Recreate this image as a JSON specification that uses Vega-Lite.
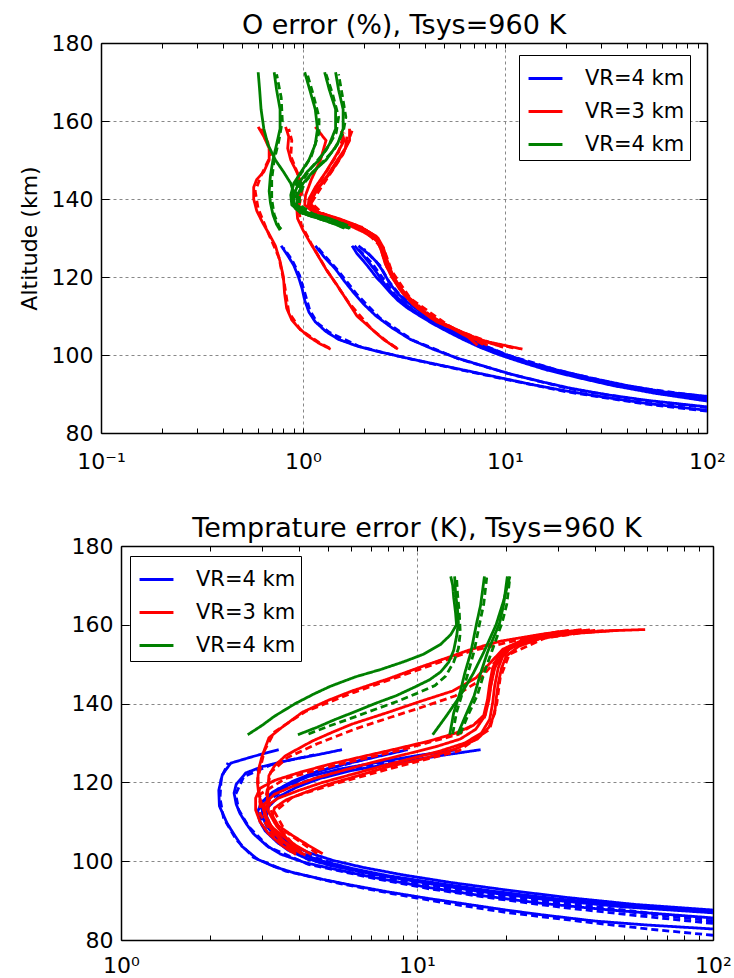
{
"$schema": "https://vega.github.io/schema/vega-lite/v6.json",
"background": "white",
"padding": {"left": 18, "top": 12, "right": 0, "bottom": 0},
"config": {
 "font": "DejaVu Sans",
 "view": {"stroke": null},
 "axis": {"labelFont": "DejaVu Sans", "labelFontSize": 22, "labelColor": "black", "titleFont": "DejaVu Sans", "titleFontSize": 22, "titleFontWeight": "normal", "titleColor": "black", "domain": true, "domainColor": "black", "domainWidth": 1.5, "tickColor": "black", "tickWidth": 1, "gridColor": "#888888", "gridDash": [3, 3], "gridWidth": 1, "labelFlush": false, "labelOverlap": false},
 "title": {"font": "DejaVu Sans", "fontSize": 27, "fontWeight": "normal", "color": "black", "frame": "group", "offset": -8},
 "legend": {"labelFont": "DejaVu Sans", "labelColor": "black"}
},
"datasets": {
"top": [
{"c":"b","k":"b1s","s":"s","x":0.78,"y":128},{"c":"b","k":"b1s","s":"s","x":0.84,"y":125.5},{"c":"b","k":"b1s","s":"s","x":0.9,"y":123},{"c":"b","k":"b1s","s":"s","x":0.95,"y":120},{"c":"b","k":"b1s","s":"s","x":0.99,"y":117},{"c":"b","k":"b1s","s":"s","x":1.02,"y":114},{"c":"b","k":"b1s","s":"s","x":1.07,"y":111},{"c":"b","k":"b1s","s":"s","x":1.15,"y":108.5},{"c":"b","k":"b1s","s":"s","x":1.3,"y":106},{"c":"b","k":"b1s","s":"s","x":1.5,"y":104},{"c":"b","k":"b1s","s":"s","x":1.85,"y":102.3},{"c":"b","k":"b1s","s":"s","x":2.3,"y":101},{"c":"b","k":"b1s","s":"s","x":2.8,"y":100},{"c":"b","k":"b1s","s":"s","x":3.7,"y":98.6},{"c":"b","k":"b1s","s":"s","x":5,"y":97.2},{"c":"b","k":"b1s","s":"s","x":7,"y":95.6},{"c":"b","k":"b1s","s":"s","x":9.8,"y":94},{"c":"b","k":"b1s","s":"s","x":14,"y":92.3},{"c":"b","k":"b1s","s":"s","x":20,"y":90.8},{"c":"b","k":"b1s","s":"s","x":30,"y":89.3},{"c":"b","k":"b1s","s":"s","x":50,"y":87.6},{"c":"b","k":"b1s","s":"s","x":100,"y":85.8},
{"c":"b","k":"b1d","s":"d","x":0.8,"y":127.5},{"c":"b","k":"b1d","s":"d","x":0.88,"y":124.5},{"c":"b","k":"b1d","s":"d","x":0.96,"y":120.5},{"c":"b","k":"b1d","s":"d","x":1.02,"y":116},{"c":"b","k":"b1d","s":"d","x":1.08,"y":111.5},{"c":"b","k":"b1d","s":"d","x":1.18,"y":108.2},{"c":"b","k":"b1d","s":"d","x":1.35,"y":105.8},{"c":"b","k":"b1d","s":"d","x":1.9,"y":102.2},{"c":"b","k":"b1d","s":"d","x":2.9,"y":99.8},{"c":"b","k":"b1d","s":"d","x":5.1,"y":97},{"c":"b","k":"b1d","s":"d","x":10,"y":93.8},{"c":"b","k":"b1d","s":"d","x":20,"y":90.6},{"c":"b","k":"b1d","s":"d","x":50,"y":87.4},{"c":"b","k":"b1d","s":"d","x":100,"y":85.6},
{"c":"b","k":"b2s","s":"s","x":1.15,"y":128},{"c":"b","k":"b2s","s":"s","x":1.28,"y":125},{"c":"b","k":"b2s","s":"s","x":1.45,"y":122},{"c":"b","k":"b2s","s":"s","x":1.6,"y":119},{"c":"b","k":"b2s","s":"s","x":1.78,"y":116},{"c":"b","k":"b2s","s":"s","x":2.0,"y":113},{"c":"b","k":"b2s","s":"s","x":2.3,"y":110},{"c":"b","k":"b2s","s":"s","x":2.75,"y":107},{"c":"b","k":"b2s","s":"s","x":3.4,"y":104},{"c":"b","k":"b2s","s":"s","x":4.4,"y":101.5},{"c":"b","k":"b2s","s":"s","x":5.8,"y":99.2},{"c":"b","k":"b2s","s":"s","x":7.8,"y":97.2},{"c":"b","k":"b2s","s":"s","x":10.5,"y":95.2},{"c":"b","k":"b2s","s":"s","x":15,"y":93.2},{"c":"b","k":"b2s","s":"s","x":21,"y":91.5},{"c":"b","k":"b2s","s":"s","x":32,"y":89.8},{"c":"b","k":"b2s","s":"s","x":50,"y":88.4},{"c":"b","k":"b2s","s":"s","x":100,"y":86.7},
{"c":"b","k":"b2d","s":"d","x":1.18,"y":127.6},{"c":"b","k":"b2d","s":"d","x":1.33,"y":124.5},{"c":"b","k":"b2d","s":"d","x":1.5,"y":121.5},{"c":"b","k":"b2d","s":"d","x":1.85,"y":115.5},{"c":"b","k":"b2d","s":"d","x":2.4,"y":109.5},{"c":"b","k":"b2d","s":"d","x":3.5,"y":103.8},{"c":"b","k":"b2d","s":"d","x":5.9,"y":99},{"c":"b","k":"b2d","s":"d","x":10.8,"y":95},{"c":"b","k":"b2d","s":"d","x":21,"y":91.3},{"c":"b","k":"b2d","s":"d","x":50,"y":88.2},{"c":"b","k":"b2d","s":"d","x":100,"y":86.5},
{"c":"b","k":"b3s","s":"s","x":1.8,"y":128},{"c":"b","k":"b3s","s":"s","x":1.95,"y":126},{"c":"b","k":"b3s","s":"s","x":2.1,"y":124},{"c":"b","k":"b3s","s":"s","x":2.25,"y":122},{"c":"b","k":"b3s","s":"s","x":2.4,"y":120},{"c":"b","k":"b3s","s":"s","x":2.55,"y":118},{"c":"b","k":"b3s","s":"s","x":2.75,"y":116},{"c":"b","k":"b3s","s":"s","x":3.05,"y":114},{"c":"b","k":"b3s","s":"s","x":3.4,"y":112},{"c":"b","k":"b3s","s":"s","x":3.9,"y":110},{"c":"b","k":"b3s","s":"s","x":4.6,"y":108},{"c":"b","k":"b3s","s":"s","x":5.4,"y":106},{"c":"b","k":"b3s","s":"s","x":6.4,"y":104},{"c":"b","k":"b3s","s":"s","x":7.8,"y":102},{"c":"b","k":"b3s","s":"s","x":9.5,"y":100.2},{"c":"b","k":"b3s","s":"s","x":12.5,"y":98.2},{"c":"b","k":"b3s","s":"s","x":17,"y":96.2},{"c":"b","k":"b3s","s":"s","x":24,"y":94.2},{"c":"b","k":"b3s","s":"s","x":36,"y":92.2},{"c":"b","k":"b3s","s":"s","x":60,"y":90.2},{"c":"b","k":"b3s","s":"s","x":100,"y":88.8},
{"c":"b","k":"b3d","s":"d","x":1.85,"y":127.5},{"c":"b","k":"b3d","s":"d","x":2.2,"y":123.5},{"c":"b","k":"b3d","s":"d","x":2.5,"y":119.5},{"c":"b","k":"b3d","s":"d","x":2.85,"y":115.5},{"c":"b","k":"b3d","s":"d","x":3.5,"y":111.5},{"c":"b","k":"b3d","s":"d","x":4.7,"y":107.7},{"c":"b","k":"b3d","s":"d","x":6.6,"y":103.7},{"c":"b","k":"b3d","s":"d","x":9.8,"y":100},{"c":"b","k":"b3d","s":"d","x":17.5,"y":96},{"c":"b","k":"b3d","s":"d","x":36,"y":92},{"c":"b","k":"b3d","s":"d","x":100,"y":88.6},
{"c":"b","k":"b4s","s":"s","x":1.88,"y":128},{"c":"b","k":"b4s","s":"s","x":2.1,"y":126},{"c":"b","k":"b4s","s":"s","x":2.3,"y":124},{"c":"b","k":"b4s","s":"s","x":2.45,"y":122},{"c":"b","k":"b4s","s":"s","x":2.58,"y":120},{"c":"b","k":"b4s","s":"s","x":2.72,"y":118},{"c":"b","k":"b4s","s":"s","x":2.92,"y":116},{"c":"b","k":"b4s","s":"s","x":3.2,"y":114},{"c":"b","k":"b4s","s":"s","x":3.6,"y":112},{"c":"b","k":"b4s","s":"s","x":4.1,"y":110},{"c":"b","k":"b4s","s":"s","x":4.8,"y":108},{"c":"b","k":"b4s","s":"s","x":5.6,"y":106},{"c":"b","k":"b4s","s":"s","x":6.7,"y":104},{"c":"b","k":"b4s","s":"s","x":8.2,"y":102},{"c":"b","k":"b4s","s":"s","x":10,"y":100.2},{"c":"b","k":"b4s","s":"s","x":13,"y":98.2},{"c":"b","k":"b4s","s":"s","x":18,"y":96.2},{"c":"b","k":"b4s","s":"s","x":26,"y":94.2},{"c":"b","k":"b4s","s":"s","x":40,"y":92.2},{"c":"b","k":"b4s","s":"s","x":62,"y":90.5},{"c":"b","k":"b4s","s":"s","x":100,"y":89.4},
{"c":"b","k":"b4d","s":"d","x":2.0,"y":127.2},{"c":"b","k":"b4d","s":"d","x":2.4,"y":123},{"c":"b","k":"b4d","s":"d","x":2.65,"y":119},{"c":"b","k":"b4d","s":"d","x":3.0,"y":115.5},{"c":"b","k":"b4d","s":"d","x":3.7,"y":111.6},{"c":"b","k":"b4d","s":"d","x":5.0,"y":107.5},{"c":"b","k":"b4d","s":"d","x":7,"y":103.5},{"c":"b","k":"b4d","s":"d","x":10.3,"y":100},{"c":"b","k":"b4d","s":"d","x":18.5,"y":96},{"c":"b","k":"b4d","s":"d","x":40,"y":92},{"c":"b","k":"b4d","s":"d","x":100,"y":89.2},
{"c":"b","k":"b5s","s":"s","x":1.75,"y":128},{"c":"b","k":"b5s","s":"s","x":1.85,"y":126},{"c":"b","k":"b5s","s":"s","x":2.0,"y":124},{"c":"b","k":"b5s","s":"s","x":2.15,"y":122},{"c":"b","k":"b5s","s":"s","x":2.3,"y":120},{"c":"b","k":"b5s","s":"s","x":2.5,"y":118},{"c":"b","k":"b5s","s":"s","x":2.7,"y":116},{"c":"b","k":"b5s","s":"s","x":2.95,"y":114},{"c":"b","k":"b5s","s":"s","x":3.3,"y":112},{"c":"b","k":"b5s","s":"s","x":3.8,"y":110},{"c":"b","k":"b5s","s":"s","x":4.4,"y":108},{"c":"b","k":"b5s","s":"s","x":5.2,"y":106},{"c":"b","k":"b5s","s":"s","x":6.2,"y":104},{"c":"b","k":"b5s","s":"s","x":7.5,"y":102},{"c":"b","k":"b5s","s":"s","x":9.2,"y":100.2},{"c":"b","k":"b5s","s":"s","x":12,"y":98.2},{"c":"b","k":"b5s","s":"s","x":16,"y":96.2},{"c":"b","k":"b5s","s":"s","x":23,"y":94.2},{"c":"b","k":"b5s","s":"s","x":34,"y":92.2},{"c":"b","k":"b5s","s":"s","x":55,"y":90.2},{"c":"b","k":"b5s","s":"s","x":100,"y":88.2},
{"c":"r","k":"r1s","s":"s","x":0.6,"y":158.5},{"c":"r","k":"r1s","s":"s","x":0.64,"y":156},{"c":"r","k":"r1s","s":"s","x":0.68,"y":153},{"c":"r","k":"r1s","s":"s","x":0.68,"y":150},{"c":"r","k":"r1s","s":"s","x":0.64,"y":147},{"c":"r","k":"r1s","s":"s","x":0.59,"y":145},{"c":"r","k":"r1s","s":"s","x":0.57,"y":143},{"c":"r","k":"r1s","s":"s","x":0.57,"y":140},{"c":"r","k":"r1s","s":"s","x":0.59,"y":137},{"c":"r","k":"r1s","s":"s","x":0.63,"y":134},{"c":"r","k":"r1s","s":"s","x":0.68,"y":131},{"c":"r","k":"r1s","s":"s","x":0.73,"y":128},{"c":"r","k":"r1s","s":"s","x":0.77,"y":124},{"c":"r","k":"r1s","s":"s","x":0.8,"y":120},{"c":"r","k":"r1s","s":"s","x":0.81,"y":116},{"c":"r","k":"r1s","s":"s","x":0.83,"y":112},{"c":"r","k":"r1s","s":"s","x":0.88,"y":109},{"c":"r","k":"r1s","s":"s","x":0.95,"y":107},{"c":"r","k":"r1s","s":"s","x":1.05,"y":105},{"c":"r","k":"r1s","s":"s","x":1.2,"y":103},{"c":"r","k":"r1s","s":"s","x":1.37,"y":101.5},
{"c":"r","k":"r1d","s":"d","x":0.62,"y":158},{"c":"r","k":"r1d","s":"d","x":0.67,"y":154.5},{"c":"r","k":"r1d","s":"d","x":0.69,"y":151},{"c":"r","k":"r1d","s":"d","x":0.62,"y":146},{"c":"r","k":"r1d","s":"d","x":0.58,"y":142},{"c":"r","k":"r1d","s":"d","x":0.6,"y":137.5},{"c":"r","k":"r1d","s":"d","x":0.67,"y":131.5},{"c":"r","k":"r1d","s":"d","x":0.76,"y":125},{"c":"r","k":"r1d","s":"d","x":0.81,"y":118},{"c":"r","k":"r1d","s":"d","x":0.85,"y":111},{"c":"r","k":"r1d","s":"d","x":0.97,"y":106.5},{"c":"r","k":"r1d","s":"d","x":1.2,"y":103.2},{"c":"r","k":"r1d","s":"d","x":1.35,"y":101.8},
{"c":"r","k":"r2s","s":"s","x":0.82,"y":158.5},{"c":"r","k":"r2s","s":"s","x":0.85,"y":156},{"c":"r","k":"r2s","s":"s","x":0.84,"y":153},{"c":"r","k":"r2s","s":"s","x":0.87,"y":150},{"c":"r","k":"r2s","s":"s","x":0.93,"y":147},{"c":"r","k":"r2s","s":"s","x":0.98,"y":144},{"c":"r","k":"r2s","s":"s","x":0.97,"y":141},{"c":"r","k":"r2s","s":"s","x":0.93,"y":138},{"c":"r","k":"r2s","s":"s","x":0.94,"y":135},{"c":"r","k":"r2s","s":"s","x":1.0,"y":132},{"c":"r","k":"r2s","s":"s","x":1.08,"y":129},{"c":"r","k":"r2s","s":"s","x":1.17,"y":126},{"c":"r","k":"r2s","s":"s","x":1.3,"y":122},{"c":"r","k":"r2s","s":"s","x":1.47,"y":118},{"c":"r","k":"r2s","s":"s","x":1.65,"y":114},{"c":"r","k":"r2s","s":"s","x":1.85,"y":110},{"c":"r","k":"r2s","s":"s","x":2.15,"y":107},{"c":"r","k":"r2s","s":"s","x":2.5,"y":104},{"c":"r","k":"r2s","s":"s","x":2.95,"y":101.5},
{"c":"r","k":"r2d","s":"d","x":0.85,"y":158},{"c":"r","k":"r2d","s":"d","x":0.88,"y":155},{"c":"r","k":"r2d","s":"d","x":0.87,"y":151},{"c":"r","k":"r2d","s":"d","x":0.95,"y":146},{"c":"r","k":"r2d","s":"d","x":0.99,"y":142},{"c":"r","k":"r2d","s":"d","x":0.95,"y":137.5},{"c":"r","k":"r2d","s":"d","x":0.98,"y":133.5},{"c":"r","k":"r2d","s":"d","x":1.1,"y":128.5},{"c":"r","k":"r2d","s":"d","x":1.32,"y":121.5},{"c":"r","k":"r2d","s":"d","x":1.68,"y":113.5},{"c":"r","k":"r2d","s":"d","x":2.2,"y":106.5},{"c":"r","k":"r2d","s":"d","x":2.6,"y":103.5},{"c":"r","k":"r2d","s":"d","x":2.9,"y":101.8},
{"c":"r","k":"r3s","s":"s","x":1.15,"y":158.5},{"c":"r","k":"r3s","s":"s","x":1.3,"y":155},{"c":"r","k":"r3s","s":"s","x":1.22,"y":150},{"c":"r","k":"r3s","s":"s","x":1.1,"y":145},{"c":"r","k":"r3s","s":"s","x":1.03,"y":141},{"c":"r","k":"r3s","s":"s","x":1.02,"y":138.5},{"c":"r","k":"r3s","s":"s","x":1.1,"y":137},{"c":"r","k":"r3s","s":"s","x":1.5,"y":134.5},{"c":"r","k":"r3s","s":"s","x":2.0,"y":131.5},{"c":"r","k":"r3s","s":"s","x":2.3,"y":129.5},{"c":"r","k":"r3s","s":"s","x":2.45,"y":127},{"c":"r","k":"r3s","s":"s","x":2.55,"y":124},{"c":"r","k":"r3s","s":"s","x":2.7,"y":121},{"c":"r","k":"r3s","s":"s","x":3.0,"y":117},{"c":"r","k":"r3s","s":"s","x":3.5,"y":113},{"c":"r","k":"r3s","s":"s","x":4.3,"y":109.5},{"c":"r","k":"r3s","s":"s","x":5.5,"y":107},{"c":"r","k":"r3s","s":"s","x":7.0,"y":104.5},{"c":"r","k":"r3s","s":"s","x":8.5,"y":103},{"c":"r","k":"r3s","s":"s","x":9.8,"y":102},
{"c":"r","k":"r4s","s":"s","x":1.55,"y":157.5},{"c":"r","k":"r4s","s":"s","x":1.6,"y":155},{"c":"r","k":"r4s","s":"s","x":1.45,"y":151},{"c":"r","k":"r4s","s":"s","x":1.3,"y":147},{"c":"r","k":"r4s","s":"s","x":1.15,"y":143},{"c":"r","k":"r4s","s":"s","x":1.07,"y":140},{"c":"r","k":"r4s","s":"s","x":1.06,"y":138},{"c":"r","k":"r4s","s":"s","x":1.15,"y":136.8},{"c":"r","k":"r4s","s":"s","x":1.5,"y":135},{"c":"r","k":"r4s","s":"s","x":1.9,"y":133},{"c":"r","k":"r4s","s":"s","x":2.2,"y":131},{"c":"r","k":"r4s","s":"s","x":2.35,"y":129},{"c":"r","k":"r4s","s":"s","x":2.45,"y":126.5},{"c":"r","k":"r4s","s":"s","x":2.55,"y":123.5},{"c":"r","k":"r4s","s":"s","x":2.75,"y":120},{"c":"r","k":"r4s","s":"s","x":3.1,"y":116},{"c":"r","k":"r4s","s":"s","x":3.7,"y":112},{"c":"r","k":"r4s","s":"s","x":4.6,"y":108.5},{"c":"r","k":"r4s","s":"s","x":6,"y":106},{"c":"r","k":"r4s","s":"s","x":8,"y":103.5},{"c":"r","k":"r4s","s":"s","x":12.2,"y":101.5},
{"c":"r","k":"r4d","s":"d","x":1.6,"y":157},{"c":"r","k":"r4d","s":"d","x":1.5,"y":152},{"c":"r","k":"r4d","s":"d","x":1.2,"y":144},{"c":"r","k":"r4d","s":"d","x":1.08,"y":139},{"c":"r","k":"r4d","s":"d","x":1.2,"y":136.5},{"c":"r","k":"r4d","s":"d","x":1.95,"y":132.8},{"c":"r","k":"r4d","s":"d","x":2.4,"y":128},{"c":"r","k":"r4d","s":"d","x":2.6,"y":122.5},{"c":"r","k":"r4d","s":"d","x":3.2,"y":115.5},{"c":"r","k":"r4d","s":"d","x":4.8,"y":108},{"c":"r","k":"r4d","s":"d","x":8.3,"y":103.3},{"c":"r","k":"r4d","s":"d","x":11,"y":101.8},
{"c":"r","k":"r5s","s":"s","x":1.7,"y":158},{"c":"r","k":"r5s","s":"s","x":1.7,"y":155},{"c":"r","k":"r5s","s":"s","x":1.55,"y":151},{"c":"r","k":"r5s","s":"s","x":1.38,"y":147},{"c":"r","k":"r5s","s":"s","x":1.2,"y":143},{"c":"r","k":"r5s","s":"s","x":1.1,"y":140},{"c":"r","k":"r5s","s":"s","x":1.08,"y":137.8},{"c":"r","k":"r5s","s":"s","x":1.2,"y":136.5},{"c":"r","k":"r5s","s":"s","x":1.6,"y":134.3},{"c":"r","k":"r5s","s":"s","x":2.0,"y":132.3},{"c":"r","k":"r5s","s":"s","x":2.3,"y":130.5},{"c":"r","k":"r5s","s":"s","x":2.45,"y":128},{"c":"r","k":"r5s","s":"s","x":2.55,"y":125},{"c":"r","k":"r5s","s":"s","x":2.7,"y":122},{"c":"r","k":"r5s","s":"s","x":2.9,"y":118.5},{"c":"r","k":"r5s","s":"s","x":3.3,"y":115},{"c":"r","k":"r5s","s":"s","x":4.0,"y":111},{"c":"r","k":"r5s","s":"s","x":5.0,"y":108},{"c":"r","k":"r5s","s":"s","x":6.5,"y":105},{"c":"r","k":"r5s","s":"s","x":8.2,"y":102.5},
{"c":"r","k":"r5d","s":"d","x":1.75,"y":157.5},{"c":"r","k":"r5d","s":"d","x":1.58,"y":151.5},{"c":"r","k":"r5d","s":"d","x":1.25,"y":143.5},{"c":"r","k":"r5d","s":"d","x":1.1,"y":139},{"c":"r","k":"r5d","s":"d","x":1.25,"y":136.3},{"c":"r","k":"r5d","s":"d","x":2.05,"y":132},{"c":"r","k":"r5d","s":"d","x":2.5,"y":127.5},{"c":"r","k":"r5d","s":"d","x":2.75,"y":121.5},{"c":"r","k":"r5d","s":"d","x":3.4,"y":114.5},{"c":"r","k":"r5d","s":"d","x":5.2,"y":107.7},{"c":"r","k":"r5d","s":"d","x":7.8,"y":102.7},
{"c":"r","k":"r6s","s":"s","x":1.65,"y":156},{"c":"r","k":"r6s","s":"s","x":1.62,"y":153},{"c":"r","k":"r6s","s":"s","x":1.48,"y":150},{"c":"r","k":"r6s","s":"s","x":1.32,"y":146},{"c":"r","k":"r6s","s":"s","x":1.17,"y":142.5},{"c":"r","k":"r6s","s":"s","x":1.1,"y":139.5},{"c":"r","k":"r6s","s":"s","x":1.1,"y":137.5},{"c":"r","k":"r6s","s":"s","x":1.25,"y":136},{"c":"r","k":"r6s","s":"s","x":1.65,"y":134},{"c":"r","k":"r6s","s":"s","x":2.05,"y":132},{"c":"r","k":"r6s","s":"s","x":2.35,"y":130},{"c":"r","k":"r6s","s":"s","x":2.5,"y":127.5},{"c":"r","k":"r6s","s":"s","x":2.6,"y":124.5},{"c":"r","k":"r6s","s":"s","x":2.75,"y":121},{"c":"r","k":"r6s","s":"s","x":3.0,"y":117.5},{"c":"r","k":"r6s","s":"s","x":3.4,"y":114},{"c":"r","k":"r6s","s":"s","x":4.1,"y":110.5},{"c":"r","k":"r6s","s":"s","x":5.2,"y":107.5},{"c":"r","k":"r6s","s":"s","x":6.6,"y":104.5},{"c":"r","k":"r6s","s":"s","x":7.3,"y":102.5},
{"c":"g","k":"g1s","s":"s","x":0.6,"y":172.5},{"c":"g","k":"g1s","s":"s","x":0.61,"y":168},{"c":"g","k":"g1s","s":"s","x":0.62,"y":163},{"c":"g","k":"g1s","s":"s","x":0.64,"y":158},{"c":"g","k":"g1s","s":"s","x":0.67,"y":154},{"c":"g","k":"g1s","s":"s","x":0.73,"y":150},{"c":"g","k":"g1s","s":"s","x":0.8,"y":147},{"c":"g","k":"g1s","s":"s","x":0.87,"y":144},{"c":"g","k":"g1s","s":"s","x":0.9,"y":141.5},{"c":"g","k":"g1s","s":"s","x":0.88,"y":139.5},{"c":"g","k":"g1s","s":"s","x":0.92,"y":137.5},{"c":"g","k":"g1s","s":"s","x":1.05,"y":136},{"c":"g","k":"g1s","s":"s","x":1.3,"y":134.5},{"c":"g","k":"g1s","s":"s","x":1.55,"y":133.2},{"c":"g","k":"g1s","s":"s","x":1.7,"y":132.5},
{"c":"g","k":"g2s","s":"s","x":0.72,"y":172.5},{"c":"g","k":"g2s","s":"s","x":0.74,"y":168},{"c":"g","k":"g2s","s":"s","x":0.77,"y":163},{"c":"g","k":"g2s","s":"s","x":0.77,"y":158},{"c":"g","k":"g2s","s":"s","x":0.74,"y":154},{"c":"g","k":"g2s","s":"s","x":0.71,"y":150},{"c":"g","k":"g2s","s":"s","x":0.69,"y":146},{"c":"g","k":"g2s","s":"s","x":0.68,"y":142},{"c":"g","k":"g2s","s":"s","x":0.69,"y":139},{"c":"g","k":"g2s","s":"s","x":0.71,"y":136},{"c":"g","k":"g2s","s":"s","x":0.74,"y":133.5},{"c":"g","k":"g2s","s":"s","x":0.77,"y":132},
{"c":"g","k":"g2d","s":"d","x":0.74,"y":172},{"c":"g","k":"g2d","s":"d","x":0.78,"y":166},{"c":"g","k":"g2d","s":"d","x":0.79,"y":160},{"c":"g","k":"g2d","s":"d","x":0.76,"y":155},{"c":"g","k":"g2d","s":"d","x":0.72,"y":150},{"c":"g","k":"g2d","s":"d","x":0.7,"y":145},{"c":"g","k":"g2d","s":"d","x":0.7,"y":140},{"c":"g","k":"g2d","s":"d","x":0.72,"y":136},{"c":"g","k":"g2d","s":"d","x":0.76,"y":133},{"c":"g","k":"g2d","s":"d","x":0.78,"y":132.3},
{"c":"g","k":"g3s","s":"s","x":1.02,"y":172.5},{"c":"g","k":"g3s","s":"s","x":1.08,"y":168},{"c":"g","k":"g3s","s":"s","x":1.15,"y":163},{"c":"g","k":"g3s","s":"s","x":1.18,"y":158},{"c":"g","k":"g3s","s":"s","x":1.15,"y":154},{"c":"g","k":"g3s","s":"s","x":1.07,"y":150},{"c":"g","k":"g3s","s":"s","x":0.98,"y":147},{"c":"g","k":"g3s","s":"s","x":0.9,"y":144},{"c":"g","k":"g3s","s":"s","x":0.87,"y":141},{"c":"g","k":"g3s","s":"s","x":0.88,"y":138.5},{"c":"g","k":"g3s","s":"s","x":0.97,"y":136.5},{"c":"g","k":"g3s","s":"s","x":1.2,"y":135},{"c":"g","k":"g3s","s":"s","x":1.45,"y":133.5},{"c":"g","k":"g3s","s":"s","x":1.6,"y":132.5},
{"c":"g","k":"g3d","s":"d","x":1.05,"y":172},{"c":"g","k":"g3d","s":"d","x":1.12,"y":167},{"c":"g","k":"g3d","s":"d","x":1.2,"y":161},{"c":"g","k":"g3d","s":"d","x":1.2,"y":157},{"c":"g","k":"g3d","s":"d","x":1.1,"y":151},{"c":"g","k":"g3d","s":"d","x":0.95,"y":145.5},{"c":"g","k":"g3d","s":"d","x":0.89,"y":141.5},{"c":"g","k":"g3d","s":"d","x":0.9,"y":138.3},{"c":"g","k":"g3d","s":"d","x":1.0,"y":136.3},{"c":"g","k":"g3d","s":"d","x":1.5,"y":133.3},{"c":"g","k":"g3d","s":"d","x":1.62,"y":132.7},
{"c":"g","k":"g4s","s":"s","x":1.28,"y":172.5},{"c":"g","k":"g4s","s":"s","x":1.35,"y":168},{"c":"g","k":"g4s","s":"s","x":1.45,"y":163},{"c":"g","k":"g4s","s":"s","x":1.45,"y":158},{"c":"g","k":"g4s","s":"s","x":1.35,"y":154},{"c":"g","k":"g4s","s":"s","x":1.2,"y":150},{"c":"g","k":"g4s","s":"s","x":1.05,"y":147},{"c":"g","k":"g4s","s":"s","x":0.95,"y":144},{"c":"g","k":"g4s","s":"s","x":0.9,"y":141},{"c":"g","k":"g4s","s":"s","x":0.9,"y":138.5},{"c":"g","k":"g4s","s":"s","x":1.02,"y":136.3},{"c":"g","k":"g4s","s":"s","x":1.3,"y":134.5},{"c":"g","k":"g4s","s":"s","x":1.55,"y":133.2},{"c":"g","k":"g4s","s":"s","x":1.7,"y":132.5},
{"c":"g","k":"g4d","s":"d","x":1.3,"y":172},{"c":"g","k":"g4d","s":"d","x":1.4,"y":167},{"c":"g","k":"g4d","s":"d","x":1.5,"y":161},{"c":"g","k":"g4d","s":"d","x":1.46,"y":157},{"c":"g","k":"g4d","s":"d","x":1.3,"y":152.5},{"c":"g","k":"g4d","s":"d","x":1.1,"y":148},{"c":"g","k":"g4d","s":"d","x":0.97,"y":144},{"c":"g","k":"g4d","s":"d","x":0.92,"y":140.5},{"c":"g","k":"g4d","s":"d","x":0.93,"y":138.3},{"c":"g","k":"g4d","s":"d","x":1.08,"y":136},{"c":"g","k":"g4d","s":"d","x":1.6,"y":133},{"c":"g","k":"g4d","s":"d","x":1.72,"y":132.6},
{"c":"g","k":"g5s","s":"s","x":1.45,"y":172.5},{"c":"g","k":"g5s","s":"s","x":1.5,"y":168},{"c":"g","k":"g5s","s":"s","x":1.58,"y":163},{"c":"g","k":"g5s","s":"s","x":1.58,"y":158},{"c":"g","k":"g5s","s":"s","x":1.48,"y":154},{"c":"g","k":"g5s","s":"s","x":1.3,"y":150},{"c":"g","k":"g5s","s":"s","x":1.12,"y":147},{"c":"g","k":"g5s","s":"s","x":1.0,"y":144},{"c":"g","k":"g5s","s":"s","x":0.94,"y":141},{"c":"g","k":"g5s","s":"s","x":0.93,"y":138.5},{"c":"g","k":"g5s","s":"s","x":1.05,"y":136.5},{"c":"g","k":"g5s","s":"s","x":1.35,"y":135},{"c":"g","k":"g5s","s":"s","x":1.55,"y":133.8},{"c":"g","k":"g5s","s":"s","x":1.65,"y":133},
{"c":"g","k":"g5d","s":"d","x":1.5,"y":172},{"c":"g","k":"g5d","s":"d","x":1.56,"y":167},{"c":"g","k":"g5d","s":"d","x":1.63,"y":161},{"c":"g","k":"g5d","s":"d","x":1.58,"y":157},{"c":"g","k":"g5d","s":"d","x":1.42,"y":152.5},{"c":"g","k":"g5d","s":"d","x":1.2,"y":148.5},{"c":"g","k":"g5d","s":"d","x":1.03,"y":144.5},{"c":"g","k":"g5d","s":"d","x":0.96,"y":141},{"c":"g","k":"g5d","s":"d","x":0.96,"y":138.5},{"c":"g","k":"g5d","s":"d","x":1.12,"y":136.2},{"c":"g","k":"g5d","s":"d","x":1.6,"y":133.6},{"c":"g","k":"g5d","s":"d","x":1.67,"y":133.2}
],
"bot": [
{"c":"b","k":"bas","s":"s","x":3.41,"y":128.3},{"c":"b","k":"bas","s":"s","x":2.8,"y":126.6},{"c":"b","k":"bas","s":"s","x":2.35,"y":124.9},{"c":"b","k":"bas","s":"s","x":2.2,"y":122},{"c":"b","k":"bas","s":"s","x":2.14,"y":118},{"c":"b","k":"bas","s":"s","x":2.15,"y":114},{"c":"b","k":"bas","s":"s","x":2.28,"y":109.7},{"c":"b","k":"bas","s":"s","x":2.4,"y":107},{"c":"b","k":"bas","s":"s","x":2.56,"y":103.8},{"c":"b","k":"bas","s":"s","x":2.89,"y":100.5},{"c":"b","k":"bas","s":"s","x":3.3,"y":98.6},{"c":"b","k":"bas","s":"s","x":3.78,"y":97.2},{"c":"b","k":"bas","s":"s","x":4.8,"y":95.4},{"c":"b","k":"bas","s":"s","x":5.93,"y":94},{"c":"b","k":"bas","s":"s","x":8,"y":92.2},{"c":"b","k":"bas","s":"s","x":10.8,"y":90.6},{"c":"b","k":"bas","s":"s","x":15,"y":89},{"c":"b","k":"bas","s":"s","x":20,"y":87.6},{"c":"b","k":"bas","s":"s","x":26.4,"y":86.4},{"c":"b","k":"bas","s":"s","x":40,"y":84.8},{"c":"b","k":"bas","s":"s","x":60,"y":83.8},{"c":"b","k":"bas","s":"s","x":100,"y":82.8},
{"c":"b","k":"bad","s":"d","x":2.3,"y":125},{"c":"b","k":"bad","s":"d","x":2.18,"y":121},{"c":"b","k":"bad","s":"d","x":2.16,"y":116},{"c":"b","k":"bad","s":"d","x":2.22,"y":111},{"c":"b","k":"bad","s":"d","x":2.45,"y":105.5},{"c":"b","k":"bad","s":"d","x":2.8,"y":101},{"c":"b","k":"bad","s":"d","x":3.6,"y":97.5},{"c":"b","k":"bad","s":"d","x":5.5,"y":94.3},{"c":"b","k":"bad","s":"d","x":8.2,"y":91.8},{"c":"b","k":"bad","s":"d","x":12,"y":89.6},{"c":"b","k":"bad","s":"d","x":20,"y":87},{"c":"b","k":"bad","s":"d","x":35,"y":84.8},{"c":"b","k":"bad","s":"d","x":60,"y":82.8},{"c":"b","k":"bad","s":"d","x":100,"y":81.2},
{"c":"b","k":"bbs","s":"s","x":5.58,"y":128.3},{"c":"b","k":"bbs","s":"s","x":4.6,"y":127},{"c":"b","k":"bbs","s":"s","x":3.78,"y":125.8},{"c":"b","k":"bbs","s":"s","x":3.0,"y":124},{"c":"b","k":"bbs","s":"s","x":2.64,"y":122.4},{"c":"b","k":"bbs","s":"s","x":2.45,"y":119.5},{"c":"b","k":"bbs","s":"s","x":2.41,"y":117.3},{"c":"b","k":"bbs","s":"s","x":2.45,"y":114.5},{"c":"b","k":"bbs","s":"s","x":2.52,"y":112.2},{"c":"b","k":"bbs","s":"s","x":2.65,"y":109.5},{"c":"b","k":"bbs","s":"s","x":2.8,"y":107},{"c":"b","k":"bbs","s":"s","x":3.1,"y":104},{"c":"b","k":"bbs","s":"s","x":3.46,"y":101.8},{"c":"b","k":"bbs","s":"s","x":4.2,"y":99.6},{"c":"b","k":"bbs","s":"s","x":5.1,"y":98.2},{"c":"b","k":"bbs","s":"s","x":7,"y":96},{"c":"b","k":"bbs","s":"s","x":10.8,"y":93.4},{"c":"b","k":"bbs","s":"s","x":16,"y":91.4},{"c":"b","k":"bbs","s":"s","x":26.4,"y":89.3},{"c":"b","k":"bbs","s":"s","x":45,"y":87.6},{"c":"b","k":"bbs","s":"s","x":100,"y":85.6},
{"c":"b","k":"bbd","s":"d","x":4.5,"y":127},{"c":"b","k":"bbd","s":"d","x":3.3,"y":124.8},{"c":"b","k":"bbd","s":"d","x":2.6,"y":121.5},{"c":"b","k":"bbd","s":"d","x":2.44,"y":117},{"c":"b","k":"bbd","s":"d","x":2.5,"y":113},{"c":"b","k":"bbd","s":"d","x":2.7,"y":108.8},{"c":"b","k":"bbd","s":"d","x":3.15,"y":103.6},{"c":"b","k":"bbd","s":"d","x":4.3,"y":99.2},{"c":"b","k":"bbd","s":"d","x":7.2,"y":95.6},{"c":"b","k":"bbd","s":"d","x":11,"y":93},{"c":"b","k":"bbd","s":"d","x":18,"y":90.6},{"c":"b","k":"bbd","s":"d","x":30,"y":88.4},{"c":"b","k":"bbd","s":"d","x":55,"y":86.2},{"c":"b","k":"bbd","s":"d","x":100,"y":84.2},
{"c":"b","k":"bcs","s":"s","x":9.3,"y":128.3},{"c":"b","k":"bcs","s":"s","x":7.3,"y":126.5},{"c":"b","k":"bcs","s":"s","x":5.9,"y":124.9},{"c":"b","k":"bcs","s":"s","x":4.5,"y":122.5},{"c":"b","k":"bcs","s":"s","x":3.78,"y":120.2},{"c":"b","k":"bcs","s":"s","x":3.25,"y":117.5},{"c":"b","k":"bcs","s":"s","x":2.98,"y":114.9},{"c":"b","k":"bcs","s":"s","x":2.89,"y":112.4},{"c":"b","k":"bcs","s":"s","x":2.95,"y":110},{"c":"b","k":"bcs","s":"s","x":3.07,"y":107.7},{"c":"b","k":"bcs","s":"s","x":3.35,"y":105},{"c":"b","k":"bcs","s":"s","x":3.67,"y":102.8},{"c":"b","k":"bcs","s":"s","x":4.2,"y":100.8},{"c":"b","k":"bcs","s":"s","x":5.1,"y":98.9},{"c":"b","k":"bcs","s":"s","x":7,"y":96.8},{"c":"b","k":"bcs","s":"s","x":10.8,"y":94.4},{"c":"b","k":"bcs","s":"s","x":16,"y":92.4},{"c":"b","k":"bcs","s":"s","x":26.4,"y":90.4},{"c":"b","k":"bcs","s":"s","x":50,"y":88.4},{"c":"b","k":"bcs","s":"s","x":100,"y":86.9},
{"c":"b","k":"bcd","s":"d","x":7,"y":126.2},{"c":"b","k":"bcd","s":"d","x":4.6,"y":122.8},{"c":"b","k":"bcd","s":"d","x":3.4,"y":118.4},{"c":"b","k":"bcd","s":"d","x":2.95,"y":113.5},{"c":"b","k":"bcd","s":"d","x":3.0,"y":109},{"c":"b","k":"bcd","s":"d","x":3.4,"y":104.6},{"c":"b","k":"bcd","s":"d","x":4.3,"y":100.4},{"c":"b","k":"bcd","s":"d","x":7.2,"y":96.3},{"c":"b","k":"bcd","s":"d","x":11.2,"y":93.8},{"c":"b","k":"bcd","s":"d","x":19,"y":91},{"c":"b","k":"bcd","s":"d","x":35,"y":88.6},{"c":"b","k":"bcd","s":"d","x":60,"y":86.6},{"c":"b","k":"bcd","s":"d","x":100,"y":84.8},
{"c":"b","k":"bds","s":"s","x":13.7,"y":128.3},{"c":"b","k":"bds","s":"s","x":10,"y":126.8},{"c":"b","k":"bds","s":"s","x":7.5,"y":125.2},{"c":"b","k":"bds","s":"s","x":5.5,"y":123.4},{"c":"b","k":"bds","s":"s","x":4.3,"y":121.5},{"c":"b","k":"bds","s":"s","x":3.6,"y":119},{"c":"b","k":"bds","s":"s","x":3.2,"y":116.5},{"c":"b","k":"bds","s":"s","x":3.0,"y":114},{"c":"b","k":"bds","s":"s","x":3.0,"y":111.5},{"c":"b","k":"bds","s":"s","x":3.1,"y":109},{"c":"b","k":"bds","s":"s","x":3.3,"y":106.5},{"c":"b","k":"bds","s":"s","x":3.6,"y":104},{"c":"b","k":"bds","s":"s","x":4.0,"y":102},{"c":"b","k":"bds","s":"s","x":4.8,"y":100},{"c":"b","k":"bds","s":"s","x":6,"y":98.2},{"c":"b","k":"bds","s":"s","x":8,"y":96.3},{"c":"b","k":"bds","s":"s","x":11.5,"y":94.5},{"c":"b","k":"bds","s":"s","x":18,"y":92.4},{"c":"b","k":"bds","s":"s","x":30,"y":90.4},{"c":"b","k":"bds","s":"s","x":55,"y":88.6},{"c":"b","k":"bds","s":"s","x":100,"y":87.3},
{"c":"b","k":"bdd","s":"d","x":9.8,"y":126.5},{"c":"b","k":"bdd","s":"d","x":5.5,"y":123},{"c":"b","k":"bdd","s":"d","x":3.7,"y":119},{"c":"b","k":"bdd","s":"d","x":3.1,"y":115},{"c":"b","k":"bdd","s":"d","x":3.05,"y":111},{"c":"b","k":"bdd","s":"d","x":3.3,"y":106.5},{"c":"b","k":"bdd","s":"d","x":3.9,"y":102.5},{"c":"b","k":"bdd","s":"d","x":6,"y":98},{"c":"b","k":"bdd","s":"d","x":10,"y":94.6},{"c":"b","k":"bdd","s":"d","x":18,"y":91.7},{"c":"b","k":"bdd","s":"d","x":35,"y":89},{"c":"b","k":"bdd","s":"d","x":65,"y":86.6},{"c":"b","k":"bdd","s":"d","x":100,"y":85.4},
{"c":"b","k":"bes","s":"s","x":16.4,"y":128.3},{"c":"b","k":"bes","s":"s","x":12,"y":126.8},{"c":"b","k":"bes","s":"s","x":8.5,"y":125},{"c":"b","k":"bes","s":"s","x":6,"y":123},{"c":"b","k":"bes","s":"s","x":4.7,"y":121},{"c":"b","k":"bes","s":"s","x":3.9,"y":118.7},{"c":"b","k":"bes","s":"s","x":3.4,"y":116.3},{"c":"b","k":"bes","s":"s","x":3.15,"y":113.8},{"c":"b","k":"bes","s":"s","x":3.1,"y":111.5},{"c":"b","k":"bes","s":"s","x":3.2,"y":109},{"c":"b","k":"bes","s":"s","x":3.4,"y":106.6},{"c":"b","k":"bes","s":"s","x":3.75,"y":104.2},{"c":"b","k":"bes","s":"s","x":4.3,"y":102.2},{"c":"b","k":"bes","s":"s","x":5.2,"y":100.2},{"c":"b","k":"bes","s":"s","x":6.6,"y":98.4},{"c":"b","k":"bes","s":"s","x":9,"y":96.5},{"c":"b","k":"bes","s":"s","x":13,"y":94.6},{"c":"b","k":"bes","s":"s","x":20,"y":92.7},{"c":"b","k":"bes","s":"s","x":32,"y":90.8},{"c":"b","k":"bes","s":"s","x":55,"y":89},{"c":"b","k":"bes","s":"s","x":100,"y":87.6},
{"c":"r","k":"ras","s":"s","x":3.9,"y":102.2},{"c":"r","k":"ras","s":"s","x":3.6,"y":104.5},{"c":"r","k":"ras","s":"s","x":3.35,"y":107},{"c":"r","k":"ras","s":"s","x":3.15,"y":110},{"c":"r","k":"ras","s":"s","x":3.0,"y":114},{"c":"r","k":"ras","s":"s","x":2.92,"y":117},{"c":"r","k":"ras","s":"s","x":2.89,"y":120},{"c":"r","k":"ras","s":"s","x":2.92,"y":123.5},{"c":"r","k":"ras","s":"s","x":3.0,"y":126.8},{"c":"r","k":"ras","s":"s","x":3.16,"y":131.3},{"c":"r","k":"ras","s":"s","x":3.5,"y":134},{"c":"r","k":"ras","s":"s","x":4.1,"y":137.8},{"c":"r","k":"ras","s":"s","x":5.0,"y":140.8},{"c":"r","k":"ras","s":"s","x":6.03,"y":143.2},{"c":"r","k":"ras","s":"s","x":8,"y":146.3},{"c":"r","k":"ras","s":"s","x":10.2,"y":149.2},{"c":"r","k":"ras","s":"s","x":12.5,"y":151.5},{"c":"r","k":"ras","s":"s","x":15,"y":153.6},{"c":"r","k":"ras","s":"s","x":19,"y":155.8},{"c":"r","k":"ras","s":"s","x":25.8,"y":157.5},{"c":"r","k":"ras","s":"s","x":32.6,"y":158.6},
{"c":"r","k":"rad","s":"d","x":3.75,"y":102.4},{"c":"r","k":"rad","s":"d","x":3.25,"y":108},{"c":"r","k":"rad","s":"d","x":2.95,"y":115},{"c":"r","k":"rad","s":"d","x":2.9,"y":121},{"c":"r","k":"rad","s":"d","x":3.05,"y":128},{"c":"r","k":"rad","s":"d","x":3.3,"y":132.8},{"c":"r","k":"rad","s":"d","x":4.2,"y":138},{"c":"r","k":"rad","s":"d","x":6.1,"y":142.8},{"c":"r","k":"rad","s":"d","x":10.3,"y":148.8},{"c":"r","k":"rad","s":"d","x":15.2,"y":153.3},{"c":"r","k":"rad","s":"d","x":25,"y":157.2},{"c":"r","k":"rad","s":"d","x":31,"y":158.4},
{"c":"r","k":"rbs","s":"s","x":4.07,"y":102.2},{"c":"r","k":"rbs","s":"s","x":3.7,"y":105},{"c":"r","k":"rbs","s":"s","x":3.35,"y":109},{"c":"r","k":"rbs","s":"s","x":3.15,"y":112.5},{"c":"r","k":"rbs","s":"s","x":3.12,"y":115.8},{"c":"r","k":"rbs","s":"s","x":3.14,"y":118.5},{"c":"r","k":"rbs","s":"s","x":3.16,"y":121.7},{"c":"r","k":"rbs","s":"s","x":3.3,"y":124.2},{"c":"r","k":"rbs","s":"s","x":3.6,"y":126.8},{"c":"r","k":"rbs","s":"s","x":4.43,"y":130.5},{"c":"r","k":"rbs","s":"s","x":5.2,"y":132.8},{"c":"r","k":"rbs","s":"s","x":6.03,"y":134.8},{"c":"r","k":"rbs","s":"s","x":8,"y":137.8},{"c":"r","k":"rbs","s":"s","x":10.2,"y":140.5},{"c":"r","k":"rbs","s":"s","x":13.2,"y":143.2},{"c":"r","k":"rbs","s":"s","x":15.8,"y":146.5},{"c":"r","k":"rbs","s":"s","x":17.5,"y":150},{"c":"r","k":"rbs","s":"s","x":19.5,"y":153.8},{"c":"r","k":"rbs","s":"s","x":23,"y":156.3},{"c":"r","k":"rbs","s":"s","x":30,"y":158},{"c":"r","k":"rbs","s":"s","x":38.4,"y":158.7},
{"c":"r","k":"rbd","s":"d","x":4.0,"y":102.4},{"c":"r","k":"rbd","s":"d","x":3.3,"y":110},{"c":"r","k":"rbd","s":"d","x":3.1,"y":117},{"c":"r","k":"rbd","s":"d","x":3.2,"y":122.5},{"c":"r","k":"rbd","s":"d","x":3.65,"y":126.3},{"c":"r","k":"rbd","s":"d","x":4.6,"y":129.8},{"c":"r","k":"rbd","s":"d","x":6.2,"y":133.6},{"c":"r","k":"rbd","s":"d","x":8.2,"y":136.6},{"c":"r","k":"rbd","s":"d","x":10.5,"y":139.2},{"c":"r","k":"rbd","s":"d","x":13.5,"y":142},{"c":"r","k":"rbd","s":"d","x":16,"y":145.5},{"c":"r","k":"rbd","s":"d","x":17.8,"y":149.5},{"c":"r","k":"rbd","s":"d","x":20,"y":153.5},{"c":"r","k":"rbd","s":"d","x":24,"y":156.2},{"c":"r","k":"rbd","s":"d","x":36,"y":158.5},
{"c":"r","k":"rcs","s":"s","x":3.9,"y":101.7},{"c":"r","k":"rcs","s":"s","x":3.5,"y":104},{"c":"r","k":"rcs","s":"s","x":3.15,"y":107},{"c":"r","k":"rcs","s":"s","x":2.95,"y":110},{"c":"r","k":"rcs","s":"s","x":2.85,"y":113},{"c":"r","k":"rcs","s":"s","x":2.85,"y":116},{"c":"r","k":"rcs","s":"s","x":2.95,"y":118.5},{"c":"r","k":"rcs","s":"s","x":3.3,"y":120.5},{"c":"r","k":"rcs","s":"s","x":4.0,"y":122.5},{"c":"r","k":"rcs","s":"s","x":5.0,"y":124.5},{"c":"r","k":"rcs","s":"s","x":6.5,"y":126.5},{"c":"r","k":"rcs","s":"s","x":8.5,"y":128.5},{"c":"r","k":"rcs","s":"s","x":11,"y":130.5},{"c":"r","k":"rcs","s":"s","x":13.5,"y":132.5},{"c":"r","k":"rcs","s":"s","x":15.5,"y":134.5},{"c":"r","k":"rcs","s":"s","x":16.8,"y":137},{"c":"r","k":"rcs","s":"s","x":17.3,"y":141},{"c":"r","k":"rcs","s":"s","x":17.6,"y":145},{"c":"r","k":"rcs","s":"s","x":18.0,"y":149},{"c":"r","k":"rcs","s":"s","x":18.8,"y":152},{"c":"r","k":"rcs","s":"s","x":20.5,"y":154.5},{"c":"r","k":"rcs","s":"s","x":24,"y":156.5},{"c":"r","k":"rcs","s":"s","x":32,"y":157.8},{"c":"r","k":"rcs","s":"s","x":45,"y":158.5},{"c":"r","k":"rcs","s":"s","x":59,"y":158.8},
{"c":"r","k":"rcd","s":"d","x":4.1,"y":101.8},{"c":"r","k":"rcd","s":"d","x":3.3,"y":106},{"c":"r","k":"rcd","s":"d","x":2.95,"y":112},{"c":"r","k":"rcd","s":"d","x":2.95,"y":117},{"c":"r","k":"rcd","s":"d","x":3.6,"y":121},{"c":"r","k":"rcd","s":"d","x":5.2,"y":124.2},{"c":"r","k":"rcd","s":"d","x":8.8,"y":128.2},{"c":"r","k":"rcd","s":"d","x":13.8,"y":132.2},{"c":"r","k":"rcd","s":"d","x":16.9,"y":136.5},{"c":"r","k":"rcd","s":"d","x":17.6,"y":143},{"c":"r","k":"rcd","s":"d","x":18.3,"y":149.5},{"c":"r","k":"rcd","s":"d","x":21,"y":154.5},{"c":"r","k":"rcd","s":"d","x":30,"y":157.6},{"c":"r","k":"rcd","s":"d","x":44,"y":158.6},
{"c":"r","k":"rds","s":"s","x":4.4,"y":101.7},{"c":"r","k":"rds","s":"s","x":3.9,"y":104},{"c":"r","k":"rds","s":"s","x":3.5,"y":106.5},{"c":"r","k":"rds","s":"s","x":3.2,"y":109},{"c":"r","k":"rds","s":"s","x":3.05,"y":112},{"c":"r","k":"rds","s":"s","x":3.05,"y":114.5},{"c":"r","k":"rds","s":"s","x":3.3,"y":117},{"c":"r","k":"rds","s":"s","x":3.8,"y":119},{"c":"r","k":"rds","s":"s","x":4.5,"y":121},{"c":"r","k":"rds","s":"s","x":5.6,"y":123},{"c":"r","k":"rds","s":"s","x":7.0,"y":125},{"c":"r","k":"rds","s":"s","x":9.0,"y":127},{"c":"r","k":"rds","s":"s","x":11.5,"y":129},{"c":"r","k":"rds","s":"s","x":14.0,"y":131},{"c":"r","k":"rds","s":"s","x":15.8,"y":133.5},{"c":"r","k":"rds","s":"s","x":17.0,"y":137},{"c":"r","k":"rds","s":"s","x":17.5,"y":141},{"c":"r","k":"rds","s":"s","x":17.8,"y":145},{"c":"r","k":"rds","s":"s","x":18.3,"y":149},{"c":"r","k":"rds","s":"s","x":19.2,"y":152},{"c":"r","k":"rds","s":"s","x":21,"y":154.5},{"c":"r","k":"rds","s":"s","x":25,"y":156.5},{"c":"r","k":"rds","s":"s","x":32,"y":157.8},{"c":"r","k":"rds","s":"s","x":40,"y":158.6},
{"c":"r","k":"res","s":"s","x":4.8,"y":101.9},{"c":"r","k":"res","s":"s","x":4.3,"y":104},{"c":"r","k":"res","s":"s","x":3.8,"y":106.5},{"c":"r","k":"res","s":"s","x":3.4,"y":109},{"c":"r","k":"res","s":"s","x":3.25,"y":111.5},{"c":"r","k":"res","s":"s","x":3.3,"y":113.5},{"c":"r","k":"res","s":"s","x":3.6,"y":115.5},{"c":"r","k":"res","s":"s","x":4.2,"y":117.5},{"c":"r","k":"res","s":"s","x":5.0,"y":119.5},{"c":"r","k":"res","s":"s","x":6.2,"y":121.5},{"c":"r","k":"res","s":"s","x":8.0,"y":124},{"c":"r","k":"res","s":"s","x":10.5,"y":126},{"c":"r","k":"res","s":"s","x":13.5,"y":128.5},{"c":"r","k":"res","s":"s","x":16.0,"y":131},{"c":"r","k":"res","s":"s","x":17.5,"y":134},{"c":"r","k":"res","s":"s","x":18.3,"y":137.5},{"c":"r","k":"res","s":"s","x":18.5,"y":141},{"c":"r","k":"res","s":"s","x":18.8,"y":145},{"c":"r","k":"res","s":"s","x":19.3,"y":149},{"c":"r","k":"res","s":"s","x":20.0,"y":152},{"c":"r","k":"res","s":"s","x":22,"y":154.5},{"c":"r","k":"res","s":"s","x":26,"y":156.5},{"c":"r","k":"res","s":"s","x":34,"y":157.8},{"c":"r","k":"res","s":"s","x":48,"y":158.6},
{"c":"r","k":"red","s":"d","x":4.6,"y":101.9},{"c":"r","k":"red","s":"d","x":3.6,"y":107.5},{"c":"r","k":"red","s":"d","x":3.3,"y":112.5},{"c":"r","k":"red","s":"d","x":3.8,"y":116.3},{"c":"r","k":"red","s":"d","x":5.2,"y":119.5},{"c":"r","k":"red","s":"d","x":8.3,"y":123.7},{"c":"r","k":"red","s":"d","x":13.8,"y":128},{"c":"r","k":"red","s":"d","x":17.6,"y":133.5},{"c":"r","k":"red","s":"d","x":18.6,"y":140},{"c":"r","k":"red","s":"d","x":19.1,"y":146.5},{"c":"r","k":"red","s":"d","x":20.5,"y":152.5},{"c":"r","k":"red","s":"d","x":27,"y":156.6},{"c":"r","k":"red","s":"d","x":40,"y":158.5},
{"c":"r","k":"rfs","s":"s","x":4.2,"y":101.5},{"c":"r","k":"rfs","s":"s","x":3.8,"y":103.5},{"c":"r","k":"rfs","s":"s","x":3.4,"y":106},{"c":"r","k":"rfs","s":"s","x":3.15,"y":109},{"c":"r","k":"rfs","s":"s","x":3.05,"y":112},{"c":"r","k":"rfs","s":"s","x":3.1,"y":114},{"c":"r","k":"rfs","s":"s","x":3.4,"y":116},{"c":"r","k":"rfs","s":"s","x":4.0,"y":118},{"c":"r","k":"rfs","s":"s","x":4.8,"y":120},{"c":"r","k":"rfs","s":"s","x":6.0,"y":122},{"c":"r","k":"rfs","s":"s","x":7.5,"y":124},{"c":"r","k":"rfs","s":"s","x":9.5,"y":126},{"c":"r","k":"rfs","s":"s","x":12,"y":128},{"c":"r","k":"rfs","s":"s","x":14.5,"y":130},{"c":"r","k":"rfs","s":"s","x":16.5,"y":132.5},{"c":"r","k":"rfs","s":"s","x":17.6,"y":136},{"c":"r","k":"rfs","s":"s","x":18.0,"y":140},{"c":"r","k":"rfs","s":"s","x":18.3,"y":144.5},{"c":"r","k":"rfs","s":"s","x":18.8,"y":149},{"c":"r","k":"rfs","s":"s","x":19.6,"y":152.5},{"c":"r","k":"rfs","s":"s","x":21.5,"y":155},{"c":"r","k":"rfs","s":"s","x":26,"y":157},{"c":"r","k":"rfs","s":"s","x":33,"y":158.4},{"c":"r","k":"rfs","s":"s","x":36,"y":158.8},
{"c":"g","k":"gas","s":"s","x":2.68,"y":132.1},{"c":"g","k":"gas","s":"s","x":3.0,"y":134.5},{"c":"g","k":"gas","s":"s","x":3.3,"y":136.8},{"c":"g","k":"gas","s":"s","x":3.9,"y":140.1},{"c":"g","k":"gas","s":"s","x":4.5,"y":142.5},{"c":"g","k":"gas","s":"s","x":5.1,"y":144.4},{"c":"g","k":"gas","s":"s","x":6.2,"y":146.8},{"c":"g","k":"gas","s":"s","x":7.5,"y":148.6},{"c":"g","k":"gas","s":"s","x":9,"y":150.6},{"c":"g","k":"gas","s":"s","x":10.5,"y":152.5},{"c":"g","k":"gas","s":"s","x":12.0,"y":155},{"c":"g","k":"gas","s":"s","x":13.0,"y":157.5},{"c":"g","k":"gas","s":"s","x":13.6,"y":160},{"c":"g","k":"gas","s":"s","x":13.5,"y":163},{"c":"g","k":"gas","s":"s","x":13.3,"y":167},{"c":"g","k":"gas","s":"s","x":13.2,"y":170},{"c":"g","k":"gas","s":"s","x":13.0,"y":172.3},
{"c":"g","k":"gbs","s":"s","x":3.96,"y":132.1},{"c":"g","k":"gbs","s":"s","x":4.6,"y":134},{"c":"g","k":"gbs","s":"s","x":5.3,"y":136},{"c":"g","k":"gbs","s":"s","x":6.2,"y":138},{"c":"g","k":"gbs","s":"s","x":7.2,"y":140},{"c":"g","k":"gbs","s":"s","x":8.5,"y":142},{"c":"g","k":"gbs","s":"s","x":9.7,"y":144},{"c":"g","k":"gbs","s":"s","x":11,"y":146},{"c":"g","k":"gbs","s":"s","x":12.0,"y":148},{"c":"g","k":"gbs","s":"s","x":12.8,"y":150.5},{"c":"g","k":"gbs","s":"s","x":13.3,"y":153.5},{"c":"g","k":"gbs","s":"s","x":13.6,"y":157},{"c":"g","k":"gbs","s":"s","x":13.8,"y":160.5},{"c":"g","k":"gbs","s":"s","x":13.7,"y":164},{"c":"g","k":"gbs","s":"s","x":13.5,"y":168},{"c":"g","k":"gbs","s":"s","x":13.4,"y":172.3},
{"c":"g","k":"gbd","s":"d","x":4.3,"y":132.3},{"c":"g","k":"gbd","s":"d","x":5.0,"y":134.2},{"c":"g","k":"gbd","s":"d","x":6.0,"y":136.3},{"c":"g","k":"gbd","s":"d","x":7.2,"y":138.5},{"c":"g","k":"gbd","s":"d","x":8.6,"y":140.6},{"c":"g","k":"gbd","s":"d","x":10,"y":142.6},{"c":"g","k":"gbd","s":"d","x":11.5,"y":144.6},{"c":"g","k":"gbd","s":"d","x":12.5,"y":147},{"c":"g","k":"gbd","s":"d","x":13.3,"y":150.5},{"c":"g","k":"gbd","s":"d","x":13.8,"y":154},{"c":"g","k":"gbd","s":"d","x":14.0,"y":158},{"c":"g","k":"gbd","s":"d","x":13.9,"y":163},{"c":"g","k":"gbd","s":"d","x":13.7,"y":168},{"c":"g","k":"gbd","s":"d","x":13.6,"y":172.3},
{"c":"g","k":"gcs","s":"s","x":12.9,"y":132.1},{"c":"g","k":"gcs","s":"s","x":13.3,"y":137.6},{"c":"g","k":"gcs","s":"s","x":14.0,"y":143},{"c":"g","k":"gcs","s":"s","x":14.5,"y":147.7},{"c":"g","k":"gcs","s":"s","x":15.2,"y":153},{"c":"g","k":"gcs","s":"s","x":15.9,"y":160.4},{"c":"g","k":"gcs","s":"s","x":16.4,"y":165},{"c":"g","k":"gcs","s":"s","x":16.9,"y":172.3},
{"c":"g","k":"gcd","s":"d","x":13.2,"y":132.3},{"c":"g","k":"gcd","s":"d","x":13.6,"y":137.8},{"c":"g","k":"gcd","s":"d","x":14.3,"y":143.2},{"c":"g","k":"gcd","s":"d","x":14.9,"y":148},{"c":"g","k":"gcd","s":"d","x":15.6,"y":153.3},{"c":"g","k":"gcd","s":"d","x":16.3,"y":160.6},{"c":"g","k":"gcd","s":"d","x":16.8,"y":165.2},{"c":"g","k":"gcd","s":"d","x":17.2,"y":172},
{"c":"g","k":"gds","s":"s","x":13.7,"y":132.1},{"c":"g","k":"gds","s":"s","x":14.6,"y":137},{"c":"g","k":"gds","s":"s","x":15.6,"y":142},{"c":"g","k":"gds","s":"s","x":16.4,"y":147.7},{"c":"g","k":"gds","s":"s","x":17.3,"y":153},{"c":"g","k":"gds","s":"s","x":19.0,"y":160.4},{"c":"g","k":"gds","s":"s","x":19.6,"y":165},{"c":"g","k":"gds","s":"s","x":20.2,"y":172.3},
{"c":"g","k":"gdd","s":"d","x":14.0,"y":132.3},{"c":"g","k":"gdd","s":"d","x":14.9,"y":137.2},{"c":"g","k":"gdd","s":"d","x":16.0,"y":142.2},{"c":"g","k":"gdd","s":"d","x":16.9,"y":148},{"c":"g","k":"gdd","s":"d","x":17.9,"y":153.3},{"c":"g","k":"gdd","s":"d","x":19.4,"y":160.6},{"c":"g","k":"gdd","s":"d","x":20.1,"y":165.2},{"c":"g","k":"gdd","s":"d","x":20.6,"y":172},
{"c":"g","k":"ges","s":"s","x":11.3,"y":132.1},{"c":"g","k":"ges","s":"s","x":12.6,"y":137},{"c":"g","k":"ges","s":"s","x":14.0,"y":142},{"c":"g","k":"ges","s":"s","x":15.5,"y":147.7},{"c":"g","k":"ges","s":"s","x":16.8,"y":153},{"c":"g","k":"ges","s":"s","x":18.5,"y":160},{"c":"g","k":"ges","s":"s","x":19.6,"y":166},{"c":"g","k":"ges","s":"s","x":20.6,"y":172.3}
]
},
"concat": [
{
 "width": 606, "height": 390,
 "title": {"text": "O error (%), Tsys=960 K"},
 "data": {"name": "top"},
 "layer": [
  {"mark": {"type": "line", "strokeWidth": 2.8, "clip": true},
   "encoding": {
    "x": {"field": "x", "type": "quantitative", "scale": {"type": "log", "domain": [0.1, 100], "nice": false},
     "axis": {"orient": "bottom", "title": null, "values": [0.1,0.2,0.3,0.4,0.5,0.6,0.7,0.8,0.9,1,2,3,4,5,6,7,8,9,10,20,30,40,50,60,70,80,90,100],
      "labelExpr": "datum.value == 0.1 ? '10⁻¹' : datum.value == 1 ? '10⁰' : datum.value == 10 ? '10¹' : datum.value == 100 ? '10²' : ''",
      "grid": true, "gridOpacity": {"condition": {"test": "datum.value == 1 || datum.value == 10", "value": 1}, "value": 0},
      "tickSize": -5, "labelPadding": 23}},
    "y": {"field": "y", "type": "quantitative", "scale": {"domain": [80, 180], "nice": false, "zero": false},
     "axis": {"orient": "left", "title": "Altitude (km)", "values": [80,100,120,140,160,180], "grid": true, "tickSize": -8, "labelPadding": 16, "titlePadding": 10}},
    "color": {"field": "c", "type": "nominal", "scale": {"domain": ["b","r","g"], "range": ["#0000ff","#ff0000","#008000"]},
     "legend": {"orient": "none", "legendX": 418, "legendY": 12, "title": null, "labelExpr": "datum.label == 'r' ? 'VR=3 km  ' : 'VR=4 km  '", "symbolType": "stroke", "symbolStrokeWidth": 3, "symbolSize": 1150, "symbolOffset": 3, "labelFontSize": 21, "labelOffset": 21, "padding": 5, "strokeColor": "black", "fillColor": "white", "rowPadding": 4, "cornerRadius": 0}},
    "strokeDash": {"field": "s", "type": "nominal", "scale": {"domain": ["s","d"], "range": [[1,0],[7,4]]}, "legend": null},
    "detail": {"field": "k"},
    "order": {"field": "y", "type": "quantitative"}
   }},
  {"mark": {"type": "point", "opacity": 0},
   "encoding": {
    "x": {"field": "x", "type": "quantitative", "scale": {"type": "log", "domain": [0.1, 100], "nice": false},
     "axis": {"orient": "top", "title": null, "labels": false, "grid": false, "values": [0.1,0.2,0.3,0.4,0.5,0.6,0.7,0.8,0.9,1,2,3,4,5,6,7,8,9,10,20,30,40,50,60,70,80,90,100], "tickSize": -5}},
    "y": {"field": "y", "type": "quantitative", "scale": {"domain": [80, 180], "nice": false, "zero": false},
     "axis": {"orient": "right", "title": null, "labels": false, "grid": false, "values": [80,100,120,140,160,180], "tickSize": -8}}
   }}
 ],
 "resolve": {"axis": {"x": "independent", "y": "independent"}}
},
{
 "width": 612, "height": 394,
 "title": {"text": "Temprature error (K), Tsys=960 K", "dx": 10},
 "data": {"name": "bot"},
 "layer": [
  {"mark": {"type": "line", "strokeWidth": 2.8, "clip": true},
   "encoding": {
    "x": {"field": "x", "type": "quantitative", "scale": {"type": "log", "domain": [1, 100], "nice": false, "range": [20, 612]},
     "axis": {"orient": "bottom", "title": null, "values": [1,2,3,4,5,6,7,8,9,10,20,30,40,50,60,70,80,90,100],
      "labelExpr": "datum.value == 1 ? '10⁰' : datum.value == 10 ? '10¹' : datum.value == 100 ? '10²' : ''",
      "grid": true, "gridOpacity": {"condition": {"test": "datum.value == 10", "value": 1}, "value": 0},
      "tickSize": -5, "labelPadding": 20}},
    "y": {"field": "y", "type": "quantitative", "scale": {"domain": [80, 180], "nice": false, "zero": false},
     "axis": {"orient": "left", "title": null, "offset": -20, "values": [80,100,120,140,160,180], "grid": true, "tickSize": -8, "labelPadding": 16}},
    "color": {"field": "c", "type": "nominal", "scale": {"domain": ["b","r","g"], "range": ["#0000ff","#ff0000","#008000"]},
     "legend": {"orient": "none", "legendX": 29, "legendY": 10, "title": null, "labelExpr": "datum.label == 'r' ? 'VR=3 km  ' : 'VR=4 km  '", "symbolType": "stroke", "symbolStrokeWidth": 3, "symbolSize": 1150, "symbolOffset": 3, "labelFontSize": 21, "labelOffset": 21, "padding": 5, "strokeColor": "black", "fillColor": "white", "rowPadding": 4, "cornerRadius": 0}},
    "strokeDash": {"field": "s", "type": "nominal", "scale": {"domain": ["s","d"], "range": [[1,0],[7,4]]}, "legend": null},
    "detail": {"field": "k"},
    "order": {"field": "y", "type": "quantitative"}
   }},
  {"mark": {"type": "point", "opacity": 0},
   "encoding": {
    "x": {"field": "x", "type": "quantitative", "scale": {"type": "log", "domain": [1, 100], "nice": false, "range": [20, 612]},
     "axis": {"orient": "top", "title": null, "labels": false, "grid": false, "values": [1,2,3,4,5,6,7,8,9,10,20,30,40,50,60,70,80,90,100], "tickSize": -5}},
    "y": {"field": "y", "type": "quantitative", "scale": {"domain": [80, 180], "nice": false, "zero": false},
     "axis": {"orient": "right", "title": null, "labels": false, "grid": false, "values": [80,100,120,140,160,180], "tickSize": -8}}
   }}
 ],
 "resolve": {"axis": {"x": "independent", "y": "independent"}}
}
],
"columns": 1,
"spacing": 43,
"resolve": {"scale": {"color": "independent", "strokeDash": "independent"}, "legend": {"color": "independent", "strokeDash": "independent"}}
}
